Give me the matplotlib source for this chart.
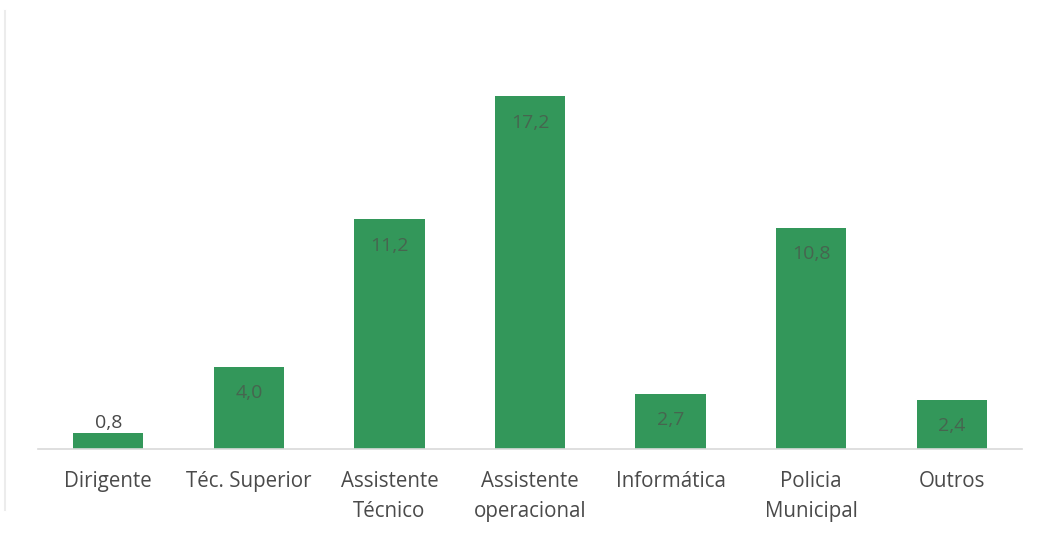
import matplotlib
matplotlib.use("Agg")
import matplotlib.pyplot as plt

categories = ["Dirigente", "Téc. Superior", "Assistente\nTécnico", "Assistente\noperacional",
              "Informática", "Policia\nMunicipal", "Outros"]
values = [0.8, 4.0, 11.2, 17.2, 2.7, 10.8, 2.4]
labels = ["0,8", "4,0", "11,2", "17,2", "2,7", "10,8", "2,4"]

plt.rcParams['font.family'] = ['Open Sans', 'DejaVu Sans']

fig = plt.figure(figsize=(10.42, 5.37), dpi=100)
ax = fig.add_axes([38 / 1042, 1 - 449 / 537, (1022 - 38) / 1042, 410 / 537])

x = list(range(len(categories)))
bars = ax.bar(x, values, width=0.5, color="#33975a", zorder=2)

ax.set_xlim(-0.5, len(categories) - 0.5)
ax.set_ylim(0, 20)

for xi, v, lab in zip(x, values, labels):
    if v < 1.5:
        ax.annotate(lab, (xi, v), xytext=(0, 3), textcoords="offset points",
                    ha="center", va="baseline", fontsize=14, color="#484848")
    else:
        ax.annotate(lab, (xi, v), xytext=(0, -19), textcoords="offset points",
                    ha="center", va="center", fontsize=14, color="#46654f")

ax.set_xticks(x)
ax.set_xticklabels(categories, fontsize=14.8, color="#4a4a4a", linespacing=1.55, va="top")
ax.tick_params(axis="x", length=0, pad=16)
ax.set_yticks([])
for side in ["top", "right", "left"]:
    ax.spines[side].set_visible(False)
ax.spines["bottom"].set_color("#d9d9d9")
ax.spines["bottom"].set_linewidth(1.2)

# light frame line on the left edge
fig.add_artist(plt.Line2D([5 / 1042, 5 / 1042], [0.05, 0.98], color="#ececec", lw=1.5))

fig.savefig("out.png", dpi=100, facecolor="white")
